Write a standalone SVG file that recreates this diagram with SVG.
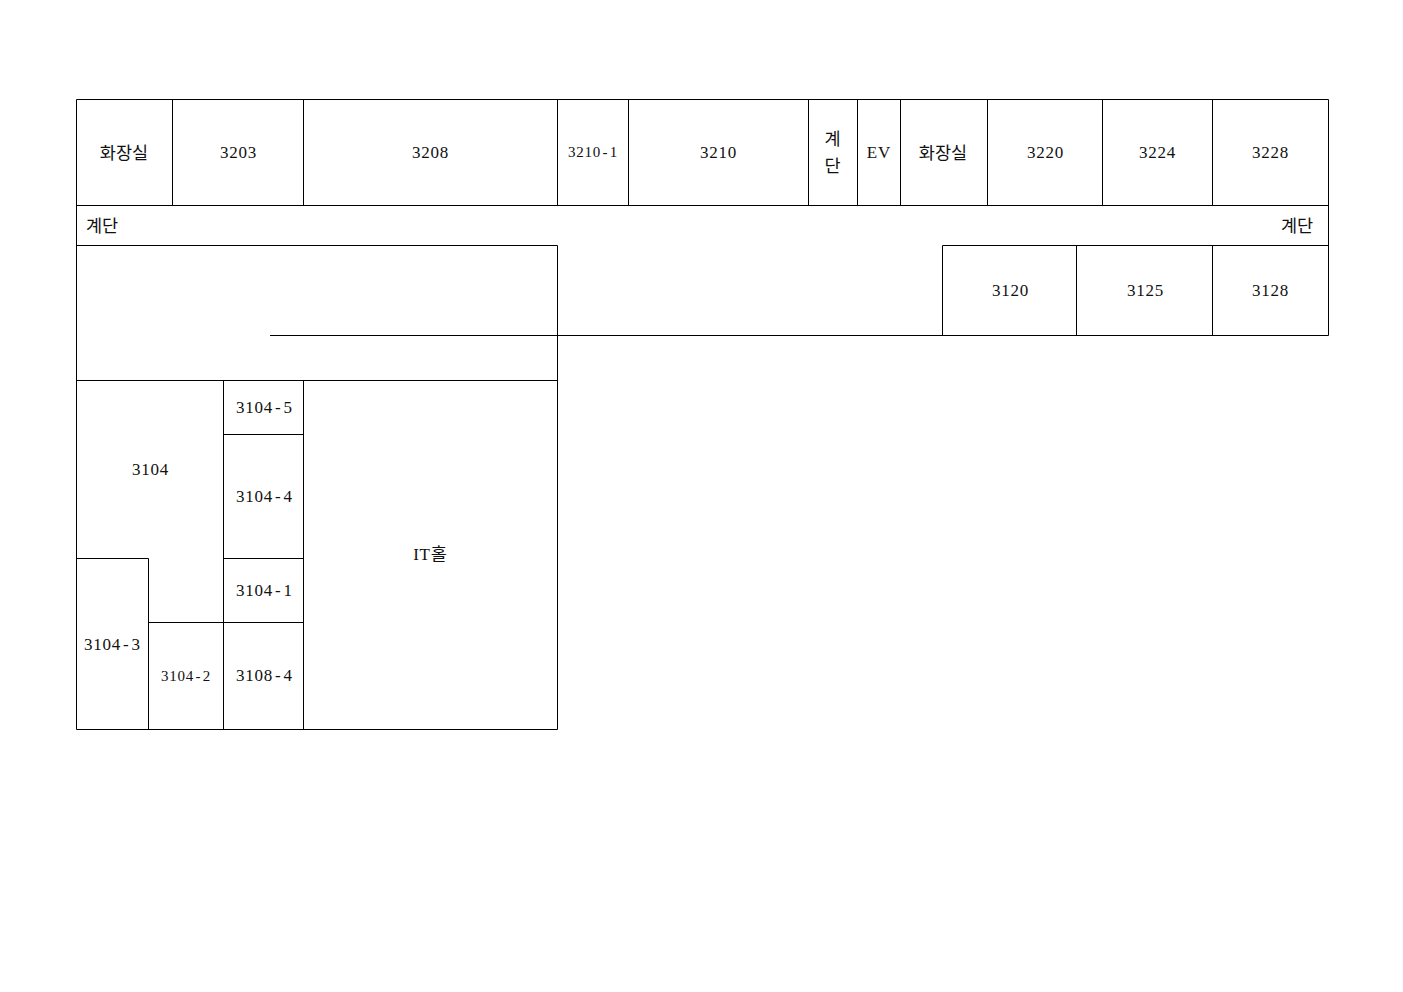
<svg xmlns="http://www.w3.org/2000/svg" width="1403" height="992" viewBox="0 0 1403 992">
<style>
.l{stroke:#000;stroke-width:1;fill:none}
text{font-family:"Liberation Serif","Noto Sans CJK KR",serif;font-size:17px;fill:#111;text-anchor:middle;letter-spacing:.75px}
.k{font-family:"Noto Sans CJK KR",sans-serif;font-size:17.500px;letter-spacing:0}
.s{font-size:15px}
</style>
<rect width="1403" height="992" fill="#fff"/>
<g id="connectors" class="l">
<path d="M76.500 99.500H1328.500V335.500H270M76.500 99.500V729.500H557.500V245.500M76.500 205.500H1328.500M76.500 245.500H557.500M942.500 245.500H1328.500M76.500 380.500H557.500"/>
<path d="M172.500 99.500V205.500M303.500 99.500V205.500M557.500 99.500V205.500M628.500 99.500V205.500M808.500 99.500V205.500M857.500 99.500V205.500M900.500 99.500V205.500M987.500 99.500V205.500M1102.500 99.500V205.500M1212.500 99.500V205.500"/>
<path d="M942.500 245.500V335.500M1076.500 245.500V335.500M1212.500 245.500V335.500"/>
<path d="M223.500 380.500V729.500M303.500 380.500V729.500M223.500 434.500H303.500M223.500 558.500H303.500M223.500 622.500H303.500M148.500 622.500H223.500M76.500 558.500H148.500V729.500"/>
</g>
<g id="n1"><text class="k" x="124" y="159">화장실</text></g>
<g id="n2"><text x="238.400" y="158">3203</text></g>
<g id="n3"><text x="430.400" y="158">3208</text></g>
<g id="n4"><text class="s" x="593" y="157">3210<tspan dx="1.500">-</tspan><tspan dx="1.500">1</tspan></text></g>
<g id="n5"><text x="718.400" y="158">3210</text></g>
<g id="n6"><text class="k" x="832.500" y="145">계</text><text class="k" x="832.500" y="172">단</text></g>
<g id="n7"><text x="878.900" y="158">EV</text></g>
<g id="n8"><text class="k" x="943" y="159">화장실</text></g>
<g id="n9"><text x="1045.400" y="158">3220</text></g>
<g id="n10"><text x="1157.400" y="158">3224</text></g>
<g id="n11"><text x="1270.400" y="158">3228</text></g>
<g id="n12"><text class="k" x="102" y="232">계단</text></g>
<g id="n13"><text class="k" x="1297" y="232">계단</text></g>
<g id="n14"><text x="1010.400" y="296">3120</text></g>
<g id="n15"><text x="1145.400" y="296">3125</text></g>
<g id="n16"><text x="1270.400" y="296">3128</text></g>
<g id="n17"><text x="150.400" y="475">3104</text></g>
<g id="n18"><text x="264.400" y="413">3104<tspan dx="2">-</tspan><tspan dx="2">5</tspan></text></g>
<g id="n19"><text x="264.400" y="502">3104<tspan dx="2">-</tspan><tspan dx="2">4</tspan></text></g>
<g id="n20"><text x="264.400" y="596">3104<tspan dx="2">-</tspan><tspan dx="2">1</tspan></text></g>
<g id="n21"><text x="264.400" y="681">3108<tspan dx="2">-</tspan><tspan dx="2">4</tspan></text></g>
<g id="n22"><text class="s" x="186" y="681">3104<tspan dx="1.500">-</tspan><tspan dx="1.500">2</tspan></text></g>
<g id="n23"><text x="112.400" y="650">3104<tspan dx="2">-</tspan><tspan dx="2">3</tspan></text></g>
<g id="n24"><text x="430" y="560">IT<tspan class="k" font-size="17">홀</tspan></text></g>
</svg>
